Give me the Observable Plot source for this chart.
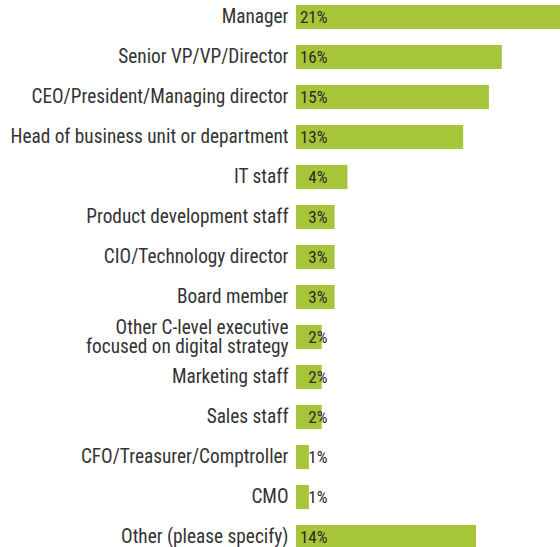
<!DOCTYPE html>
<html>
<head>
<meta charset="utf-8">
<script src="https://cdn.jsdelivr.net/npm/d3@7"></script>
<script src="https://cdn.jsdelivr.net/npm/@observablehq/plot@0.6"></script>
<style>
  html, body { margin: 0; padding: 0; background: #ffffff; overflow: hidden; }
  #chart svg { overflow: hidden; display: block; }
</style>
</head>
<body>
<div id="chart"></div>
<script>
// Job titles of respondents, share of total (%)
const roles = [
  "Manager",
  "Senior VP/VP/Director",
  "CEO/President/Managing director",
  "Head of business unit or department",
  "IT staff",
  "Product development staff",
  "CIO/Technology director",
  "Board member",
  "Other C-level executive\nfocused on digital strategy",
  "Marketing staff",
  "Sales staff",
  "CFO/Treasurer/Comptroller",
  "CMO",
  "Other (please specify)"
];
const shares = [21, 16, 15, 13, 4, 3, 3, 3, 2, 2, 2, 1, 1, 14];

const rows = roles.map((role, i) => ({role, share: shares[i]}));

const font = "'Roboto Condensed', 'Roboto', sans-serif";

const chart = Plot.plot({
  width: 560,
  height: 547,
  marginLeft: 296,
  marginRight: 0,
  marginTop: 0,
  marginBottom: 0,
  style: {fontFamily: font, background: "#ffffff", overflow: "hidden"},
  x: {domain: [0, 20.53], axis: null},
  y: {
    domain: roles,
    range: [-3, 557],
    paddingInner: 0.4,
    paddingOuter: 0.2,
    label: null
  },
  marks: [
    Plot.barX(rows, {x: "share", y: "role", fill: "#a7c539", clip: true}),
    // percentage labels, right-aligned in a fixed column at the start of each bar
    Plot.text(rows, {
      x: 0,
      y: "role",
      text: d => `${d.share}%`,
      textAnchor: "end",
      dx: 31,
      fill: "#2a2a2a",
      fontSize: 17,
      fontWeight: "normal"
    }),
    Plot.axisY({
      tickSize: 0,
      tickPadding: 8,
      fontSize: 19.3,
      lineHeight: 0.95,
      fill: "#333333",
      label: null
    })
  ]
});

document.getElementById("chart").appendChild(chart);
</script>
</body>
</html>
